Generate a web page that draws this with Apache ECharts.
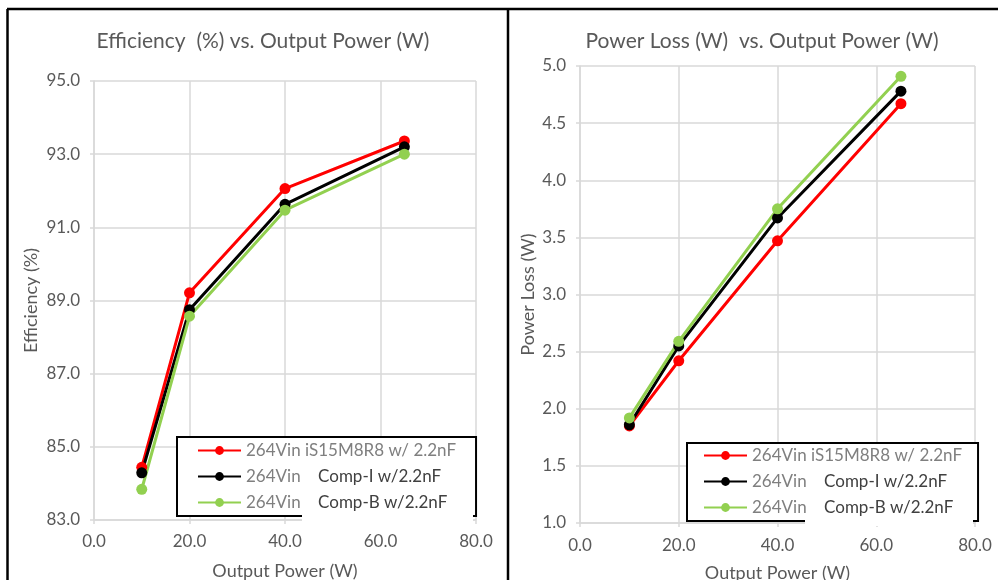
<!DOCTYPE html>
<html>
<head>
<meta charset="utf-8">
<script src="https://cdn.jsdelivr.net/npm/echarts@6/dist/echarts.min.js"></script>
<style>
html,body{margin:0;padding:0;background:#fff;}
#c{width:998px;height:580px;}
</style>
</head>
<body>
<div id="c"></div>
<script>
// ---- data ----
const outputPower = [10, 20, 40, 65];
const seriesNames = ['264Vin iS15M8R8 w/ 2.2nF', '264Vin   Comp-I w/2.2nF', '264Vin   Comp-B w/2.2nF'];
const effRed   = [84.44, 89.21, 92.06, 93.36];
const effBlack = [84.29, 88.75, 91.63, 93.20];
const effGreen = [83.84, 88.57, 91.47, 93.00];
const lossRed   = [1.85, 2.42, 3.47, 4.67];
const lossBlack = [1.86, 2.55, 3.67, 4.78];
const lossGreen = [1.92, 2.59, 3.75, 4.91];
const effTicks = [83, 85, 87, 89, 91, 93, 95];
const lossTicks = [1.0, 1.5, 2.0, 2.5, 3.0, 3.5, 4.0, 4.5, 5.0];
const powerTicks = [0, 20, 40, 60, 80];

const colors = ['#ff0000', '#000000', '#92d050'];
const FONT = 'Lato';
const TXT = '#595959';
const GRID = '#d9d9d9';
const TICKFS = 17;

function pairs(ys){ return outputPower.map((x,i)=>[x, ys[i]]); }

function xAx(gi, gap, margin){
  return {
    type:'value', gridIndex:gi, min:powerTicks[0], max:powerTicks[powerTicks.length-1], interval:powerTicks[1]-powerTicks[0],
    name:'Output Power (W)', nameLocation:'middle', nameGap:gap,
    nameTextStyle:{color:TXT, fontFamily:FONT, fontSize:18},
    axisLine:{lineStyle:{color:GRID, width:1.5}},
    axisTick:{show:true, length:4, lineStyle:{color:GRID, width:1.5}},
    axisLabel:{color:TXT, fontFamily:FONT, fontSize:TICKFS, margin:margin, formatter:v=>v.toFixed(1)},
    splitLine:{show:true, lineStyle:{color:GRID, width:1.5}}
  };
}

function legendRich(){
  return {
    a:{color:'#7f7f7f', fontFamily:FONT, fontSize:17, lineHeight:18},
    b:{color:'#404040', fontFamily:FONT, fontSize:17, lineHeight:18}
  };
}
function legendFmt(name){
  const parts = name.split('   ');
  if(parts.length===2) return '{a|'+parts[0]+'}    {b|'+parts[1]+'}';
  return '{a|'+name+'}';
}

function mkSeries(name, data, color, xi, yi){
  return {
    name:name, type:'line', xAxisIndex:xi, yAxisIndex:yi, data:pairs(data),
    symbol:'circle', symbolSize:11, showSymbol:true,
    lineStyle:{color:color, width:3}, itemStyle:{color:color},
    emphasis:{disabled:true}, animation:false
  };
}

function mkLegend(left, top, pad){
  return {orient:'vertical', left:left, top:top,
     data:seriesNames.map(n=>({name:n})),
     itemWidth:43, itemHeight:11, itemGap:9, padding:pad,
     borderColor:'#000', borderWidth:2, backgroundColor:'#fff',
     formatter:legendFmt, textStyle:{fontFamily:FONT, fontSize:17, color:'#7f7f7f', rich:legendRich()},
     selectedMode:false};
}

const chart = echarts.init(document.getElementById('c'));
chart.setOption({
  animation:false,
  backgroundColor:'#fff',
  title:[
    {text:'Efficiency  (%) vs. Output Power (W)', left:258, top:26, textAlign:'center',
     textStyle:{color:TXT, fontFamily:FONT, fontSize:21, fontWeight:'normal'}},
    {text:'Power Loss (W)  vs. Output Power (W)', left:757, top:26, textAlign:'center',
     textStyle:{color:TXT, fontFamily:FONT, fontSize:21, fontWeight:'normal'}}
  ],
  grid:[
    {left:94, right:522, top:81, bottom:60, outerBoundsMode:'none', containLabel:false},
    {left:580, right:23, top:66, bottom:57, outerBoundsMode:'none', containLabel:false}
  ],
  xAxis:[xAx(0, 42, 13), xAx(1, 41, 14)],
  yAxis:[
    {type:'value', gridIndex:0, min:effTicks[0], max:effTicks[effTicks.length-1],
     name:'Efficiency (%)', nameLocation:'middle', nameGap:54, nameRotate:90,
     nameTextStyle:{color:TXT, fontFamily:FONT, fontSize:18},
     axisLine:{show:true, lineStyle:{color:GRID, width:1.5}},
     axisTick:{show:true, length:4, customValues:effTicks, lineStyle:{color:GRID, width:1.5}},
     axisLabel:{color:TXT, fontFamily:FONT, fontSize:TICKFS, margin:14, customValues:effTicks, formatter:v=>v.toFixed(1)},
     splitLine:{show:true, lineStyle:{color:GRID, width:1.5}}},
    {type:'value', gridIndex:1, min:lossTicks[0], max:lossTicks[lossTicks.length-1], interval:lossTicks[1]-lossTicks[0],
     name:'Power Loss (W)', nameLocation:'middle', nameGap:43, nameRotate:90,
     nameTextStyle:{color:TXT, fontFamily:FONT, fontSize:18},
     axisLine:{show:true, lineStyle:{color:GRID, width:1.5}},
     axisTick:{show:true, length:4, lineStyle:{color:GRID, width:1.5}},
     axisLabel:{color:TXT, fontFamily:FONT, fontSize:TICKFS, margin:14, formatter:v=>v.toFixed(1)},
     splitLine:{show:true, lineStyle:{color:GRID, width:1.5}}}
  ],
  legend:[
    mkLegend(177, 437, [5,20,5,20]),
    mkLegend(687, 443, [4,16,5,16])
  ],
  graphic:[
    {type:'rect', shape:{x:302, y:514, width:171, height:10}, style:{fill:'#fff'}, z:200, silent:true},
    {type:'rect', shape:{x:805, y:516, width:168, height:10}, style:{fill:'#fff'}, z:200, silent:true},
    {type:'line', shape:{x1:7, y1:9, x2:998, y2:9}, style:{stroke:'#000', lineWidth:2.5}, z:300},
    {type:'line', shape:{x1:7.5, y1:9, x2:7.5, y2:580}, style:{stroke:'#000', lineWidth:2.5}, z:300},
    {type:'line', shape:{x1:508, y1:9, x2:508, y2:580}, style:{stroke:'#000', lineWidth:2.5}, z:300}
  ],
  series:[
    mkSeries(seriesNames[0], effRed, colors[0], 0, 0),
    mkSeries(seriesNames[1], effBlack, colors[1], 0, 0),
    mkSeries(seriesNames[2], effGreen, colors[2], 0, 0),
    mkSeries(seriesNames[0], lossRed, colors[0], 1, 1),
    mkSeries(seriesNames[1], lossBlack, colors[1], 1, 1),
    mkSeries(seriesNames[2], lossGreen, colors[2], 1, 1)
  ]
});
</script>
</body>
</html>
